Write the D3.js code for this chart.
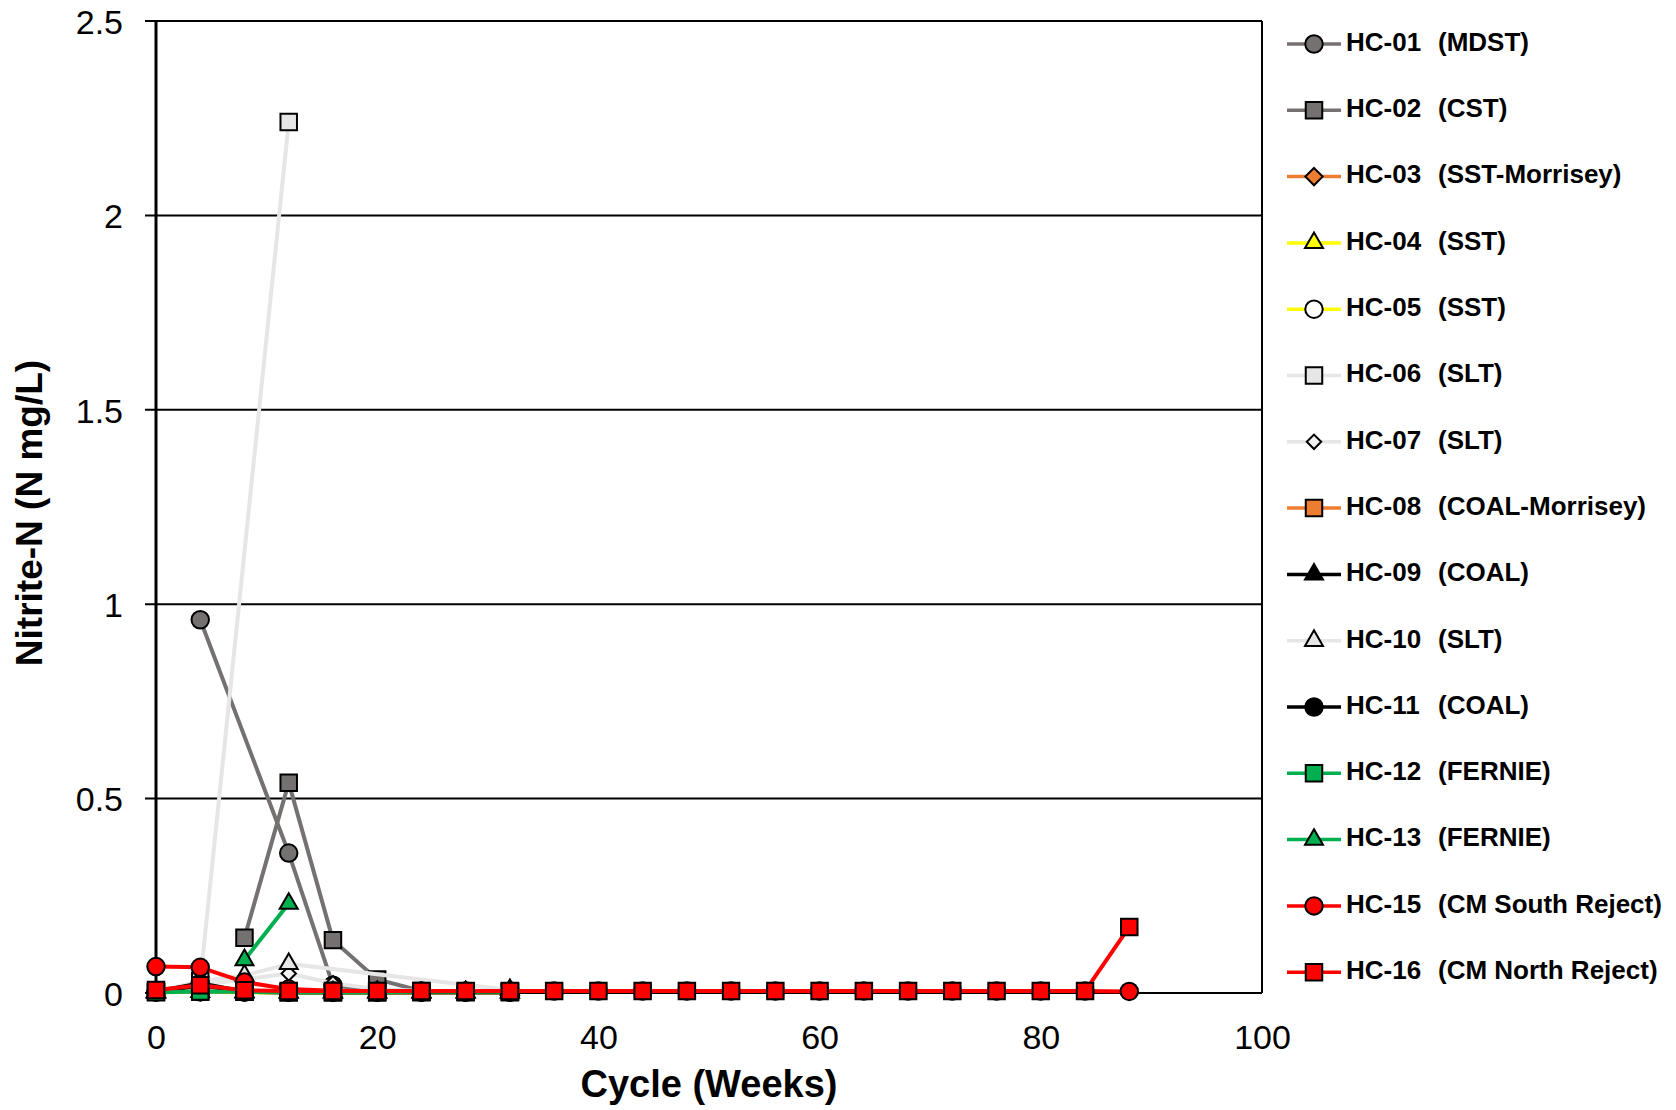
<!DOCTYPE html>
<html>
<head>
<meta charset="utf-8">
<script src="https://cdn.jsdelivr.net/npm/d3@7"></script>
<style>
  html, body { margin: 0; padding: 0; background: #fff; }
  text { font-family: "Liberation Sans", Arial, sans-serif; }
</style>
</head>
<body>
<svg id="chart" width="1676" height="1110"></svg>
<script>
// ---- data ----
const weeks = [0,4,8,12,16,20,24,28,32,36,40,44,48,52,56,60,64,68,72,76,80,84,88];
const seriesNames = ["HC-01","HC-02","HC-03","HC-04","HC-05","HC-06","HC-07","HC-08","HC-09","HC-10","HC-11","HC-12","HC-13","HC-15","HC-16"];
const seriesRocks = ["(MDST)","(CST)","(SST-Morrisey)","(SST)","(SST)","(SLT)","(SLT)","(COAL-Morrisey)","(COAL)","(SLT)","(COAL)","(FERNIE)","(FERNIE)","(CM South Reject)","(CM North Reject)"];
const N = null;
const hc01 = [N,0.96,N,0.36,0.02,0.005,0.004,0.004,0.004];
const hc02 = [N,N,0.142,0.541,0.136,0.035,0.005,0.004,0.004];
const hc03 = [0.003,0.003,0.003,0.002,0.002,0.002,0.002,0.002,0.002];
const hc04 = [0.002,0.003,0.002,0.002,0.002,0.002,0.002,0.002,0.002];
const hc05 = [0.002,0.003,0.002,0.002,0.002,0.002,0.002,0.002,0.002];
const hc06 = [N,0.03,N,2.24];
const hc07 = [0.004,0.02,0.035,0.05,0.025,0.01,0.005,0.004,0.004];
const hc08 = [0.003,0.004,0.003,0.002,0.002,0.002,0.002,0.002,0.002];
const hc09 = [0.002,0.02,0.003,0.002,0.002,0.002,0.002,0.002,0.002];
const hc10 = [0.004,0.03,0.045,0.075,N,N,N,N,0.008];
const hc11 = [0.003,0.025,0.003,0.002,0.002,0.002,0.002,0.002,0.002];
const hc12 = [0.002,0.004,0.003,0.002,0.002,0.002,0.003,0.003,0.003];
const hc13 = [N,N,0.085,0.23];
const hc15 = [0.068,0.066,0.028,0.01,0.006,0.005,0.005,0.005,0.005,0.005,0.005,0.005,0.005,0.005,0.005,0.005,0.005,0.005,0.005,0.005,0.005,0.005,0.004];
const hc16 = [0.008,0.02,0.007,0.005,0.005,0.005,0.005,0.005,0.005,0.005,0.005,0.005,0.005,0.005,0.005,0.005,0.005,0.005,0.005,0.005,0.005,0.005,0.17];
const seriesValues = [hc01,hc02,hc03,hc04,hc05,hc06,hc07,hc08,hc09,hc10,hc11,hc12,hc13,hc15,hc16];
const yTicks = [0,0.5,1,1.5,2,2.5];
const yTickLabels = ["0","0.5","1","1.5","2","2.5"];
const xTicks = [0,20,40,60,80,100];
const xTitle = "Cycle (Weeks)";
const yTitle = "Nitrite-N (N mg/L)";

// ---- styles ----
const styles = [
  {line:"#767171", fill:"#767171", shape:"circle"},
  {line:"#767171", fill:"#767171", shape:"square"},
  {line:"#ED7D31", fill:"#ED7D31", shape:"diamond"},
  {line:"#FFFF00", fill:"#FFFF00", shape:"triangle"},
  {line:"#FFFF00", fill:"#FFFFFF", shape:"circle"},
  {line:"#E7E6E6", fill:"#E7E6E6", shape:"square"},
  {line:"#E7E6E6", fill:"#F2F2F2", shape:"diamondSmall"},
  {line:"#ED7D31", fill:"#ED7D31", shape:"square"},
  {line:"#000000", fill:"#000000", shape:"triangle"},
  {line:"#E7E6E6", fill:"#E7E6E6", shape:"triangle"},
  {line:"#000000", fill:"#000000", shape:"circle"},
  {line:"#00B050", fill:"#00B050", shape:"square"},
  {line:"#00B050", fill:"#00B050", shape:"triangle"},
  {line:"#FF0000", fill:"#FF0000", shape:"circle"},
  {line:"#FF0000", fill:"#FF0000", shape:"square"}
];

(function () {
const svg = d3.select("#chart");
svg.append("rect").attr("width",1676).attr("height",1110).attr("fill","#fff");

const pLeft = 156, pRight = 1262, pTop = 21, pBottom = 993;
const x = d3.scaleLinear().domain([0,100]).range([pLeft,pRight]);
const y = d3.scaleLinear().domain([0,2.5]).range([pBottom,pTop]);

function symbolPath(shape) {
  if (shape === "circle") return d3.symbol(d3.symbolCircle, 240)();
  if (shape === "square") return d3.symbol(d3.symbolSquare, 272)();
  if (shape === "triangle") return d3.symbol(d3.symbolTriangle, 140)();
  if (shape === "diamond") { const s = 12; return `M0,${-s*0.72}L${s*0.72},0L0,${s*0.72}L${-s*0.72},0Z`; }
  if (shape === "diamondSmall") { const s = 10; return `M0,${-s*0.72}L${s*0.72},0L0,${s*0.72}L${-s*0.72},0Z`; }
}

// gridlines
const grid = svg.append("g");
yTicks.forEach(t => {
  grid.append("line").attr("x1",pLeft-11).attr("x2",pRight).attr("y1",y(t)).attr("y2",y(t))
    .attr("stroke","#000").attr("stroke-width",2);
});
grid.append("line").attr("x1",pRight).attr("x2",pRight).attr("y1",pTop).attr("y2",pBottom)
  .attr("stroke","#000").attr("stroke-width",2);
svg.append("line").attr("x1",pLeft).attr("x2",pLeft).attr("y1",pTop).attr("y2",pBottom)
  .attr("stroke","#000").attr("stroke-width",3);

// y axis tick labels
const yAxis = d3.axisLeft(y).tickValues(yTicks).tickFormat((d,i)=>yTickLabels[i]).tickSize(0).tickPadding(0);
const yg = svg.append("g").attr("transform",`translate(${pLeft-33},0)`).call(yAxis);
yg.select(".domain").remove();
yg.selectAll("text").attr("font-size",34).attr("fill","#000").attr("dy","0.36em")
  .style("font-family","'Liberation Sans', Arial, sans-serif");

// x axis tick labels
const xAxis = d3.axisBottom(x).tickValues(xTicks).tickFormat(d3.format("d")).tickSize(0).tickPadding(0);
const xg = svg.append("g").attr("transform",`translate(0,${pBottom+44})`).call(xAxis);
xg.select(".domain").remove();
xg.selectAll("text").attr("font-size",34).attr("fill","#000").attr("dy","0.36em")
  .style("font-family","'Liberation Sans', Arial, sans-serif");

// axis titles
svg.append("text").attr("x",(pLeft+pRight)/2).attr("y",1087).attr("text-anchor","middle")
  .attr("dominant-baseline","middle").attr("font-size",38).attr("font-weight","bold").text(xTitle);
svg.append("text").attr("transform",`translate(32,${(pTop+pBottom)/2 + 6}) rotate(-90)`).attr("text-anchor","middle")
  .attr("dominant-baseline","middle").attr("font-size",37).attr("font-weight","bold").text(yTitle);

// series
const line = d3.line().x(d=>x(d[0])).y(d=>y(d[1]));
const plot = svg.append("g");
seriesValues.forEach((vals, i) => {
  const pts = [];
  vals.forEach((v, j) => { if (v !== null && v !== undefined) pts.push([weeks[j], v]); });
  const st = styles[i];
  const g = plot.append("g");
  g.append("path").attr("d", line(pts)).attr("fill","none").attr("stroke",st.line)
    .attr("stroke-width",4).attr("stroke-linejoin","round");
  g.selectAll("path.m").data(pts).join("path").attr("class","m")
    .attr("d", symbolPath(st.shape))
    .attr("transform", d=>`translate(${x(d[0])},${y(d[1])})`)
    .attr("fill", st.fill).attr("stroke","#000").attr("stroke-width",2);
});

// legend
const lg = svg.append("g");
const legendY0 = 44, legendStep = 66.3;
seriesNames.forEach((name, i) => {
  const st = styles[i];
  const cy = legendY0 + i*legendStep;
  lg.append("line").attr("x1",1287).attr("x2",1341).attr("y1",cy).attr("y2",cy)
    .attr("stroke",st.line).attr("stroke-width",3.5);
  lg.append("path").attr("d",symbolPath(st.shape)).attr("transform",`translate(1314,${cy})`)
    .attr("fill",st.fill).attr("stroke","#000").attr("stroke-width",2);
  lg.append("text").attr("x",1346).attr("y",cy).attr("dominant-baseline","middle")
    .attr("font-size",26).attr("font-weight","bold").text(name);
  lg.append("text").attr("x",1438).attr("y",cy).attr("dominant-baseline","middle")
    .attr("font-size",26).attr("font-weight","bold").text(seriesRocks[i]);
});
})();
</script>
</body>
</html>
